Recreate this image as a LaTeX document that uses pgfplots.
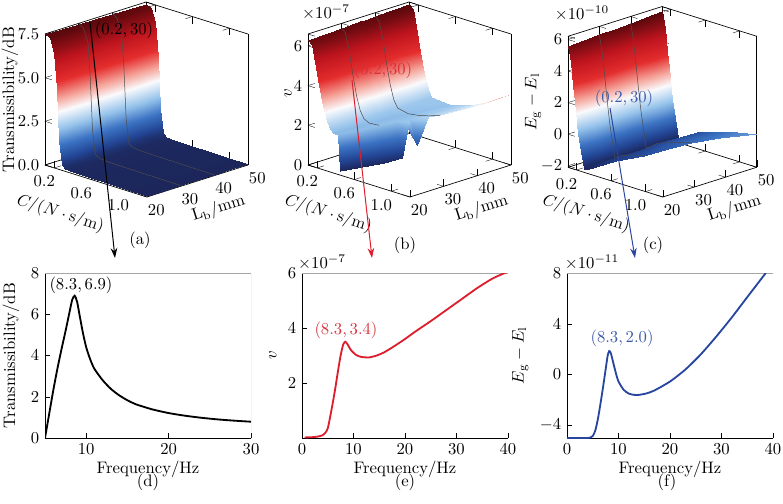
\documentclass[border=0pt]{standalone}
\usepackage{pgfplots}
\pgfplotsset{compat=1.18}
\usetikzlibrary{arrows.meta}
\definecolor{myred}{RGB}{220,30,45}
\definecolor{myblue}{RGB}{40,70,160}
\definecolor{lblred}{RGB}{215,50,60}
\definecolor{lblblue}{RGB}{60,90,170}
\pgfplotsset{
  colormap={rb}{
    rgb255(0cm)=(28,38,90);
    rgb255(8cm)=(35,70,150);
    rgb255(18cm)=(60,115,195);
    rgb255(30cm)=(150,195,235);
    rgb255(43cm)=(250,250,252);
    rgb255(53cm)=(245,165,155);
    rgb255(66cm)=(228,45,45);
    rgb255(82cm)=(190,20,30);
    rgb255(100cm)=(85,8,12)},
  threed/.style={
    xmin=0.1, xmax=1.2, ymin=20, ymax=50,
    xtick={0.2,0.6,1.0}, xticklabels={0.2,0.6,1.0},
    ytick={20,30,40,50},
    ztick pos=left,
    xlabel={$C/(N\cdot\mathrm{s/m})$},
    ylabel={$\mathrm{L_b}/\mathrm{mm}$},
    colormap name=rb,
    clip=false,
    tick style={black},
  },
  twod/.style={
    scale only axis, width=123.6pt, height=99pt,
    axis lines*=left, tick align=inside,
    axis line style={line width=0.5pt},
    major tick length=3pt,
    xlabel={Frequency/Hz},
    xlabel style={yshift=3pt},
    tick style={black},
  },
  meshline/.style={black!70, line width=0.3pt},
}
\begin{document}
\begin{tikzpicture}[x=0.6pt,y=0.6pt]
\useasboundingbox (0,0) rectangle (783,503);

% ---------------- (a)
\begin{axis}[threed, at={(27pt,183.6pt)}, anchor=south west,
  x={(55.6pt,-17.45pt)}, y={(2.02pt,0.64pt)}, z={(0pt,10.48pt)},
  zmin=0, zmax=7.5, ztick={0,2.5,5,7.5}, zticklabels={0.0,2.5,5.0,7.5},
  zlabel={Transmissibility/dB},
  every axis z label/.style={at={([xshift=-21pt]rel axis cs:0,0,0.5)}, anchor=center, rotate=90},
  every axis x label/.style={at={([xshift=-52pt,yshift=-10pt]rel axis cs:1,0,0)}, anchor=center, sloped like x axis},
  every axis y label/.style={at={([xshift=43pt,yshift=-7pt]rel axis cs:1,0,0)}, anchor=center, sloped like y axis}]
\addplot3[surf, shader=interp] table {
0.10 20 7.50
0.15 20 7.35
0.20 20 6.60
0.225 20 4.60
0.25 20 1.60
0.28 20 0.30
0.32 20 0.15
0.40 20 0.10
0.60 20 0.08
0.80 20 0.07
1.00 20 0.06
1.20 20 0.05

0.10 25 7.50
0.15 25 7.35
0.20 25 6.60
0.225 25 4.60
0.25 25 1.60
0.28 25 0.30
0.32 25 0.15
0.40 25 0.10
0.60 25 0.08
0.80 25 0.07
1.00 25 0.06
1.20 25 0.05

0.10 30 7.48
0.15 30 7.33
0.20 30 6.58
0.225 30 4.58
0.25 30 1.60
0.28 30 0.30
0.32 30 0.15
0.40 30 0.10
0.60 30 0.08
0.80 30 0.07
1.00 30 0.06
1.20 30 0.05

0.10 35 7.46
0.15 35 7.31
0.20 35 6.56
0.225 35 4.56
0.25 35 1.60
0.28 35 0.30
0.32 35 0.15
0.40 35 0.10
0.60 35 0.08
0.80 35 0.07
1.00 35 0.06
1.20 35 0.05

0.10 40 7.44
0.15 40 7.29
0.20 40 6.54
0.225 40 4.54
0.25 40 1.60
0.28 40 0.30
0.32 40 0.15
0.40 40 0.10
0.60 40 0.08
0.80 40 0.07
1.00 40 0.06
1.20 40 0.05

0.10 45 7.42
0.15 45 7.27
0.20 45 6.52
0.225 45 4.52
0.25 45 1.60
0.28 45 0.30
0.32 45 0.15
0.40 45 0.10
0.60 45 0.08
0.80 45 0.07
1.00 45 0.06
1.20 45 0.05

0.10 50 7.40
0.15 50 7.25
0.20 50 6.50
0.225 50 4.50
0.25 50 1.60
0.28 50 0.30
0.32 50 0.15
0.40 50 0.10
0.60 50 0.08
0.80 50 0.07
1.00 50 0.06
1.20 50 0.05
};
\addplot3[meshline] coordinates {(0.10,30,7.48) (0.15,30,7.33) (0.20,30,6.58) (0.225,30,4.58) (0.25,30,1.60) (0.28,30,0.30) (0.32,30,0.15) (0.40,30,0.10) (0.60,30,0.08) (0.80,30,0.07) (1.00,30,0.06) (1.20,30,0.05)};
\addplot3[meshline] coordinates {(0.10,40,7.44) (0.15,40,7.29) (0.20,40,6.54) (0.225,40,4.54) (0.25,40,1.60) (0.28,40,0.30) (0.32,40,0.15) (0.40,40,0.10) (0.60,40,0.08) (0.80,40,0.07) (1.00,40,0.06) (1.20,40,0.05)};
\end{axis}

% ---------------- (b)
\begin{axis}[threed, at={(184.8pt,183.6pt)}, anchor=south west,
  x={(55.6pt,-17.45pt)}, y={(2.02pt,0.64pt)}, z={(0pt,11.91pt)},
  zmin=0, zmax=6.6, ztick={0,2,4,6},
  zlabel={$v$},
  every axis z label/.style={at={([xshift=-12pt]rel axis cs:0,0,0.55)}, anchor=center, rotate=90},
  every axis x label/.style={at={([xshift=-49pt,yshift=-10pt]rel axis cs:1,0,0)}, anchor=center, sloped like x axis},
  every axis y label/.style={at={([xshift=43pt,yshift=-7pt]rel axis cs:1,0,0)}, anchor=center, sloped like y axis}]
\addplot3[surf, shader=interp] table {
0.10 20 6.30
0.14 20 6.10
0.18 20 5.30
0.22 20 4.20
0.26 20 3.20
0.30 20 2.50
0.34 20 2.15
0.3675 20 2.00
0.395 20 2.01
0.4225 20 2.01
0.45 20 0.20

0.10 25 6.33
0.14 25 6.13
0.18 25 5.33
0.22 25 4.20
0.26 25 3.20
0.30 25 2.50
0.34 25 2.15
0.38 25 2.00
0.42 25 2.01
0.46 25 2.03
0.50 25 0.20

0.10 30 6.37
0.14 30 6.17
0.18 30 5.37
0.22 30 4.22
0.26 30 3.20
0.30 30 2.50
0.34 30 2.15
0.395 30 2.01
0.45 30 2.03
0.505 30 2.06
0.56 30 0.25

0.10 34 6.39
0.14 34 6.19
0.18 34 5.39
0.22 34 4.23
0.26 34 3.21
0.30 34 2.50
0.34 34 2.15
0.4075 34 2.01
0.475 34 2.04
0.5425 34 2.09
0.61 34 0.35

0.10 35.5 6.40
0.14 35.5 6.20
0.18 35.5 5.40
0.22 35.5 4.23
0.26 35.5 3.21
0.30 35.5 2.50
0.34 35.5 2.15
0.4125 35.5 2.01
0.485 35.5 2.05
0.5575 35.5 2.10
0.63 35.5 2.18

0.10 37 6.41
0.14 37 6.21
0.18 37 5.41
0.22 37 4.24
0.26 37 3.21
0.30 37 2.50
0.34 37 2.15
0.42 37 2.01
0.50 37 2.06
0.58 37 2.12
0.66 37 0.90

0.10 38.5 6.42
0.14 38.5 6.22
0.18 38.5 5.42
0.22 38.5 4.24
0.26 38.5 3.22
0.30 38.5 2.50
0.34 38.5 2.15
0.435 38.5 2.02
0.53 38.5 2.08
0.625 38.5 2.18
0.72 38.5 2.31

0.10 40 6.43
0.14 40 6.23
0.18 40 5.43
0.22 40 4.25
0.26 40 3.22
0.30 40 2.50
0.34 40 2.15
0.455 40 2.03
0.57 40 2.11
0.685 40 2.26
0.80 40 2.46

0.10 45 6.47
0.14 45 6.27
0.18 45 5.47
0.22 45 4.27
0.26 45 3.23
0.30 45 2.50
0.34 45 2.15
0.505 45 2.06
0.67 45 2.24
0.835 45 2.53
1.00 45 2.94

0.10 50 6.50
0.14 50 6.30
0.18 50 5.50
0.22 50 4.28
0.26 50 3.24
0.30 50 2.50
0.34 50 2.15
0.555 50 2.10
0.77 50 2.40
0.985 50 2.90
1.20 50 3.60
};
\addplot3[meshline] coordinates {(0.10,30,6.37) (0.14,30,6.17) (0.18,30,5.37) (0.22,30,4.22) (0.26,30,3.20) (0.30,30,2.50) (0.34,30,2.15) (0.395,30,2.01) (0.45,30,2.03) (0.505,30,2.06)};
\addplot3[meshline] coordinates {(0.10,40,6.43) (0.14,40,6.23) (0.18,40,5.43) (0.22,40,4.25) (0.26,40,3.22) (0.30,40,2.50) (0.34,40,2.15) (0.455,40,2.03) (0.57,40,2.11) (0.685,40,2.26) (0.80,40,2.46)};
\end{axis}

% ---------------- (c)
\begin{axis}[threed, at={(340.8pt,183.6pt)}, anchor=south west,
  x={(51.7pt,-16.2pt)}, y={(1.88pt,0.595pt)}, z={(0pt,9.47pt)},
  zmin=-2.1, zmax=6.2, ztick={-2,0,2,4,6},
  zlabel={$E_{\mathrm{g}}-E_{\mathrm{l}}$},
  every axis z label/.style={at={([xshift=-21pt]rel axis cs:0,0,0.5)}, anchor=center, rotate=90},
  every axis x label/.style={at={([xshift=-46pt,yshift=-10pt]rel axis cs:1,0,0)}, anchor=center, sloped like x axis},
  every axis y label/.style={at={([xshift=43pt,yshift=-7pt]rel axis cs:1,0,0)}, anchor=center, sloped like y axis}]
\addplot3[surf, shader=interp] table {
0.10 20 5.60
0.13 20 4.60
0.16 20 3.20
0.19 20 1.60
0.22 20 0.20
0.25 20 -0.90
0.28 20 -1.85
0.2875 20 -1.86
0.295 20 -1.87
0.3025 20 -1.87
0.31 20 -1.88

0.10 25 5.65
0.13 25 4.65
0.16 25 3.25
0.19 25 1.65
0.22 25 0.25
0.25 25 -0.85
0.28 25 -1.85
0.3275 25 -1.65
0.375 25 -1.55
0.4225 25 -1.47
0.47 25 -1.40

0.10 30 5.70
0.13 30 4.70
0.16 30 3.30
0.19 30 1.70
0.22 30 0.30
0.25 30 -0.80
0.28 30 -1.85
0.365 30 -1.52
0.45 30 -1.36
0.535 30 -1.22
0.62 30 -1.10

0.10 35 5.75
0.13 35 4.75
0.16 35 3.35
0.19 35 1.75
0.22 35 0.35
0.25 35 -0.75
0.28 35 -1.85
0.39 35 -1.42
0.50 35 -1.19
0.61 35 -1.01
0.72 35 -0.85

0.10 40 5.80
0.13 40 4.80
0.16 40 3.40
0.19 40 1.80
0.22 40 0.40
0.25 40 -0.70
0.28 40 -1.85
0.41 40 -1.31
0.54 40 -1.03
0.67 40 -0.80
0.80 40 -0.60

0.10 45 5.85
0.13 45 4.85
0.16 45 3.45
0.19 45 1.85
0.22 45 0.45
0.25 45 -0.65
0.28 45 -1.85
0.4475 45 -1.20
0.615 45 -0.86
0.7825 45 -0.59
0.95 45 -0.35

0.10 50 5.90
0.13 50 4.90
0.16 50 3.50
0.19 50 1.90
0.22 50 0.50
0.25 50 -0.60
0.28 50 -1.85
0.51 50 -1.05
0.74 50 -0.63
0.97 50 -0.29
1.20 50 0.00
};
\addplot3[meshline] coordinates {(0.10,30,5.70) (0.13,30,4.70) (0.16,30,3.30) (0.19,30,1.70) (0.22,30,0.30) (0.25,30,-0.80) (0.28,30,-1.85) (0.365,30,-1.52) (0.45,30,-1.36) (0.535,30,-1.22) (0.62,30,-1.10)};
\addplot3[meshline] coordinates {(0.10,40,5.80) (0.13,40,4.80) (0.16,40,3.40) (0.19,40,1.80) (0.22,40,0.40) (0.25,40,-0.70) (0.28,40,-1.85) (0.41,40,-1.31) (0.54,40,-1.03) (0.67,40,-0.80) (0.80,40,-0.60)};
\end{axis}

% ---------------- (d)
\begin{axis}[twod, at={(27pt,39pt)}, anchor=south west,
  xmin=5, xmax=30, ymin=0, ymax=8,
  xtick={10,20,30}, ytick={0,2,4,6,8},
  ylabel={Transmissibility/dB}]
\draw[gray!70, line width=0.5pt] (rel axis cs:0,1) -- (rel axis cs:1,1) -- (rel axis cs:1,0);
\addplot[black, line width=1.1pt, smooth, tension=0.4] coordinates {
(5.0,0) (5.5,1.15) (6.0,2.3) (6.5,3.35) (7.0,4.3) (7.5,5.2) (8.0,6.15) (8.3,6.7) (8.6,6.9) (8.9,6.6) (9.2,5.95) (9.6,5.1) (10.0,4.4) (10.5,3.8) (11.0,3.35) (12.0,2.8) (13.0,2.38) (14.0,2.07) (15.0,1.83) (16.0,1.64) (18.0,1.39) (20.0,1.21) (22.0,1.08) (24.0,0.98) (26.0,0.90) (28.0,0.84) (30.0,0.79)};
\end{axis}

% ---------------- (e)
\begin{axis}[twod, at={(181.2pt,39pt)}, anchor=south west,
  xmin=0, xmax=40, ymin=0, ymax=6,
  xtick={0,10,20,30,40}, ytick={2,4,6},
  ylabel={$v$}]
\draw[gray!70, line width=0.5pt] (rel axis cs:0,1) -- (rel axis cs:1,1) -- (rel axis cs:1,0);
\addplot[myred, line width=1.1pt, smooth, tension=0.4] coordinates {
(0.5,0.02) (2,0.03) (3,0.05) (4,0.1) (4.5,0.18) (5,0.35) (5.5,0.8) (6,1.3) (6.5,1.85) (7,2.45) (7.5,3.0) (8,3.4) (8.4,3.5) (8.8,3.42) (9.5,3.2) (10.5,3.02) (11.5,2.95) (13,2.93) (14.5,3.0) (16,3.12) (18,3.35) (20,3.6) (22,3.87) (25,4.25) (28,4.65) (31,5.05) (34,5.45) (37,5.8) (40,6.05)};
\end{axis}

% ---------------- (f)
\begin{axis}[twod, at={(340.2pt,39pt)}, anchor=south west,
  xmin=0, xmax=40, ymin=-5, ymax=8,
  xtick={0,10,20,30,40}, ytick={-4,0,4,8},
  ylabel={$E_{\mathrm{g}}-E_{\mathrm{l}}$}]
\draw[gray!70, line width=0.5pt] (rel axis cs:0,1) -- (rel axis cs:1,1) -- (rel axis cs:1,0);
\addplot[myblue, line width=1.1pt, smooth, tension=0.4] coordinates {
(0,-5) (2,-5) (4,-5) (4.5,-4.97) (5,-4.85) (5.5,-4.4) (6,-3.5) (6.5,-2.3) (7,-1.0) (7.5,0.4) (7.9,1.5) (8.2,1.85) (8.5,1.7) (9,0.9) (9.5,0.1) (10,-0.55) (11,-1.2) (12,-1.5) (13,-1.6) (14,-1.6) (15.5,-1.48) (17,-1.25) (20,-0.55) (23,0.4) (26,1.6) (29,3.0) (32,4.5) (35,6.1) (38.6,8.0)};
\end{axis}

% ---------------- annotations
\node at (124,473) {(0.2,\,30)};
\draw[black, line width=0.6pt, -{Stealth[length=6pt,width=4pt]}] (90,481) -- (115,245);
\node[text=lblred] at (383,433) {(0.2,\,30)};
\draw[myred, line width=0.6pt, -{Stealth[length=6pt,width=4pt]}] (352,423) -- (372,245);
\node[text=lblblue] at (624,405) {(0.2,\,30)};
\draw[myblue, line width=0.6pt, -{Stealth[length=6pt,width=4pt]}] (610,395) -- (635,245);

\node at (326,491) {$\times10^{-7}$};
\node at (582,490) {$\times10^{-10}$};
\node at (322,241) {$\times10^{-7}$};
\node at (592,241) {$\times10^{-11}$};

\node at (81,218) {(8.3,\,6.9)};
\node[text=lblred] at (346,173) {(8.3,\,3.4)};
\node[text=lblblue] at (622,165) {(8.3,\,2.0)};

\node at (140,263) {(a)};
\node at (405,258) {(b)};
\node at (653,258) {(c)};
\node at (148,21) {(d)};
\node at (405,21) {(e)};
\node at (667,21) {(f)};
\end{tikzpicture}
\end{document}
